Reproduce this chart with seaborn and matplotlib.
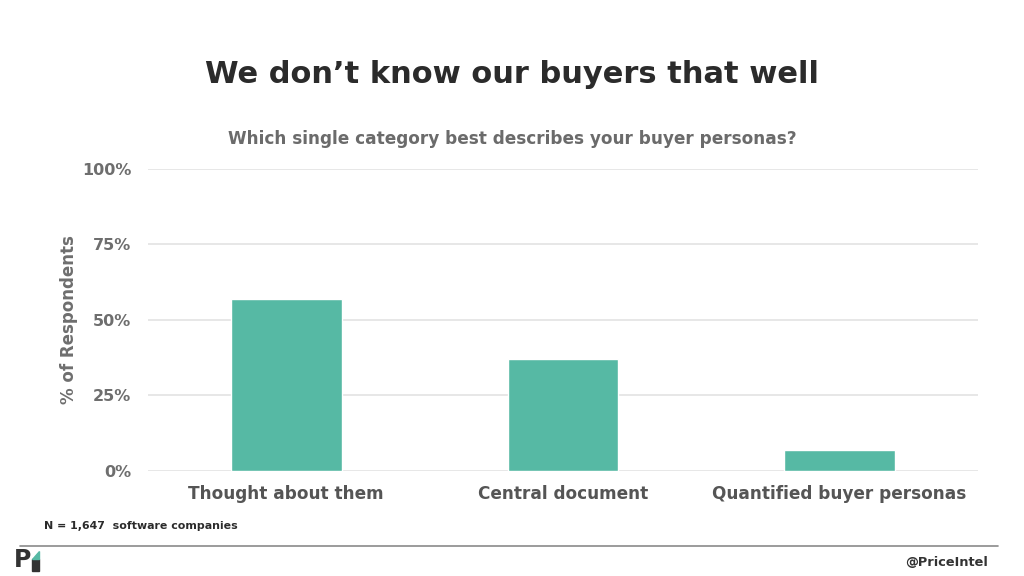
import matplotlib
matplotlib.use("Agg")
import matplotlib.pyplot as plt
import seaborn as sns
import pandas as pd
from matplotlib.patches import Rectangle, Polygon
from matplotlib.lines import Line2D

categories = ["Thought about them", "Central document", "Quantified buyer personas"]
values = [57, 37, 7]
y_ticks = [0, 25, 50, 75, 100]
y_tick_labels = ["0%", "25%", "50%", "75%", "100%"]

sns.set_theme(style="white")
plt.rcParams['font.family'] = ['DejaVu Sans']

df = pd.DataFrame({"category": categories, "value": values})

fig = plt.figure(figsize=(10.24, 5.76), dpi=100)
ax = fig.add_axes([0.1445, 0.1823, 0.8105, 0.5243])

sns.barplot(data=df, x="category", y="value", color="#56b9a4", width=0.4,
            saturation=1, ax=ax, zorder=3)

ax.set_ylim(0, 100)
ax.set_xlim(-0.5, 2.5)
ax.set_yticks(y_ticks)
ax.set_yticklabels(y_tick_labels)
ax.yaxis.grid(True, color="#e3e3e3", linewidth=1.2, zorder=0)
ax.xaxis.grid(False)
for s in ax.spines.values():
    s.set_visible(False)
ax.tick_params(axis="y", length=0, pad=12, labelsize=11.5, labelcolor="#6e6e6e")
ax.tick_params(axis="x", length=0, pad=10, labelsize=12.2, labelcolor="#555555")
for lbl in ax.get_yticklabels() + ax.get_xticklabels():
    lbl.set_fontweight("bold")
ax.set_xlabel("")
ax.set_ylabel("% of Respondents", fontsize=12, fontweight="bold", color="#6e6e6e", labelpad=3)

fig.text(0.5, 0.870, "We don\u2019t know our buyers that well", ha="center", va="center",
         fontsize=22, fontweight="bold", color="#2b2b2b")
fig.text(0.5, 0.759, "Which single category best describes your buyer personas?", ha="center",
         va="center", fontsize=12.2, fontweight="bold", color="#6b6b6b")
fig.text(0.043, 0.086, "N = 1,647  software companies", ha="left", va="center",
         fontsize=7.9, fontweight="bold", color="#2b2b2b")
fig.text(0.965, 0.024, "@PriceIntel", ha="right", va="center",
         fontsize=9.3, fontweight="bold", color="#333333")

fig.add_artist(Line2D([0.02, 0.975], [0.052, 0.052], transform=fig.transFigure,
                      color="#8a8a8a", linewidth=1.2))

# small logo
fig.text(0.014, 0.027, "P", ha="left", va="center", fontsize=17, fontweight="bold", color="#333333")
fig.add_artist(Rectangle((0.031, 0.008), 0.007, 0.022, transform=fig.transFigure,
                         color="#333333"))
fig.add_artist(Polygon([[0.031, 0.030], [0.038, 0.030], [0.038, 0.044]], closed=True,
                       transform=fig.transFigure, color="#56b9a4"))

fig.savefig("out.png", dpi=100)
